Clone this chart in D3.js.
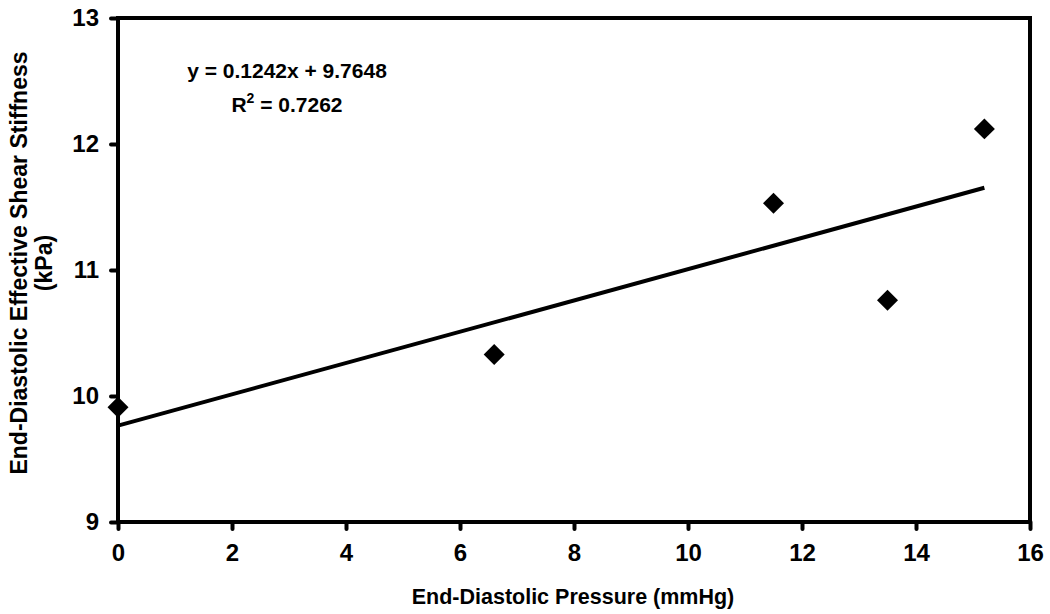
<!DOCTYPE html>
<html><head><meta charset="utf-8">
<script src="https://cdn.jsdelivr.net/npm/d3@7"></script>
<style>body{margin:0;background:#fff;} text{font-family:"Liberation Sans",Arial,sans-serif;font-weight:bold;fill:#000;}</style>
</head><body>
<svg id="c" width="1050" height="614"></svg>
<script>
const pressure = [0, 6.6, 11.5, 13.5, 15.2];
const stiffness = [9.91, 10.33, 11.53, 10.76, 12.12];
const xTicks = [0, 2, 4, 6, 8, 10, 12, 14, 16];
const yTicks = [9, 10, 11, 12, 13];
const slope = 0.1242, intercept = 9.7648;
const eqLines = ["y = 0.1242x + 9.7648", "R2 = 0.7262"];

const svg = d3.select("#c");
const L = 118, R = 1030, T = 18, B = 522;
const x = d3.scaleLinear().domain([0, 16]).range([L, R]);
const y = d3.scaleLinear().domain([9, 13]).range([B, T]);

// frame
svg.append("rect").attr("x", L).attr("y", T).attr("width", R - L).attr("height", B - T)
  .attr("fill", "none").attr("stroke", "#000").attr("stroke-width", 4);

const xa = svg.append("g").attr("transform", `translate(0,${B})`)
  .call(d3.axisBottom(x).tickValues(xTicks).tickSize(7).tickPadding(15).tickFormat(d3.format("d")));
const ya = svg.append("g").attr("transform", `translate(${L},0)`)
  .call(d3.axisLeft(y).tickValues(yTicks).tickSize(7).tickPadding(12).tickFormat(d3.format("d")));
[xa, ya].forEach(a => {
  a.select(".domain").remove();
  a.selectAll("line").attr("stroke", "#000").attr("stroke-width", 4).attr("stroke-linecap", "round");
  a.selectAll("text").style("font-size", "24px").style("font-family", "'Liberation Sans',Arial,sans-serif").style("font-weight", "bold").attr("fill", "#000");
});

// trendline
const x0 = d3.min(pressure), x1 = d3.max(pressure);
svg.append("line").attr("x1", x(x0)).attr("y1", y(slope * x0 + intercept))
  .attr("x2", x(x1)).attr("y2", y(slope * x1 + intercept))
  .attr("stroke", "#000").attr("stroke-width", 4);

// points
const sym = d3.symbol().type(d3.symbolSquare).size(220);
svg.selectAll(".pt").data(pressure).join("path")
  .attr("d", sym)
  .attr("transform", (d, i) => `translate(${x(d)},${y(stiffness[i])}) rotate(45)`)
  .attr("fill", "#000");

// equation
svg.append("text").attr("x", 287).attr("y", 78).attr("text-anchor", "middle")
  .style("font-size", "21px").text(eqLines[0]);
const r2 = svg.append("text").attr("x", 287).attr("y", 112).attr("text-anchor", "middle").style("font-size", "21px");
r2.append("tspan").text("R");
r2.append("tspan").attr("dy", -9).style("font-size", "14px").text("2");
r2.append("tspan").attr("dy", 9).text(" = 0.7262");

// axis titles
svg.append("text").attr("x", 573).attr("y", 604).attr("text-anchor", "middle")
  .style("font-size", "21.5px").text("End-Diastolic Pressure (mmHg)");
const yt = svg.append("text").attr("transform", "translate(27,263) rotate(-90)").attr("text-anchor", "middle").style("font-size", "23px");
yt.append("tspan").attr("x", 0).attr("dy", 0).text("End-Diastolic Effective Shear Stiffness");
yt.append("tspan").attr("x", 0).attr("dy", 25).text("(kPa)");
</script>
</body></html>
